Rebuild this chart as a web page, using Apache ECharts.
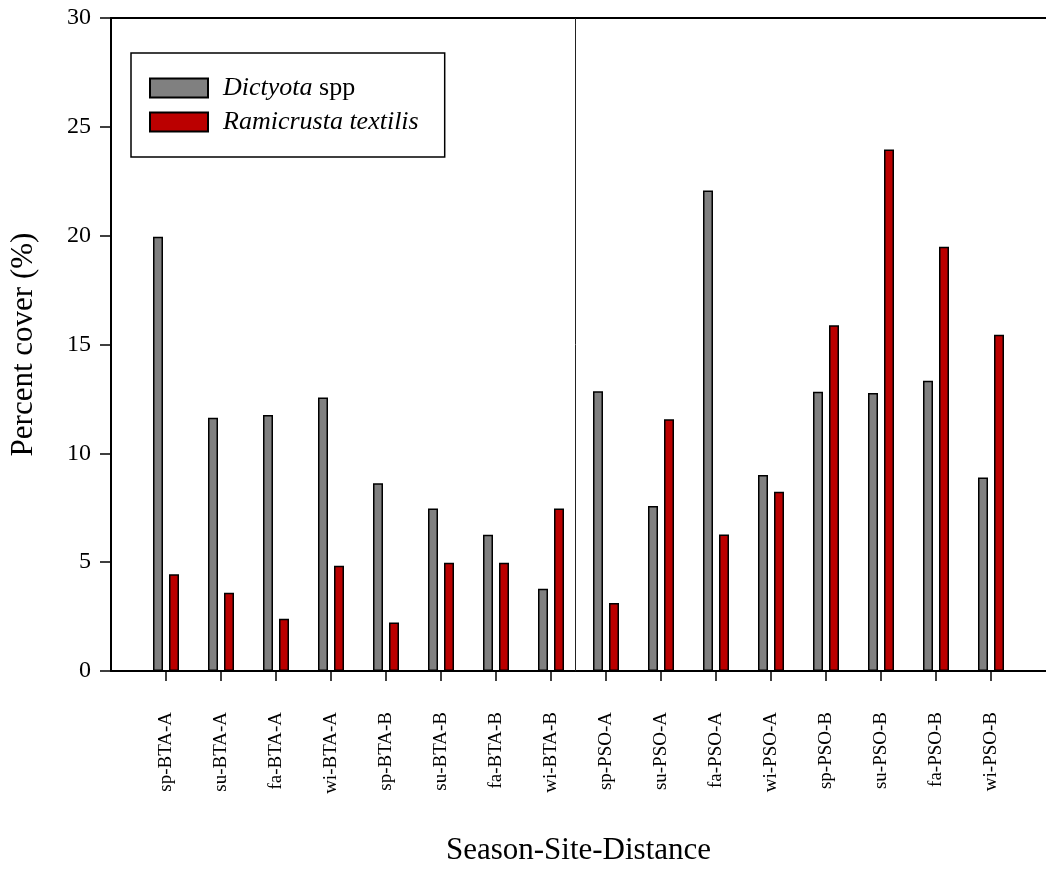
<!DOCTYPE html>
<html>
<head>
<meta charset="utf-8">
<script src="https://cdn.jsdelivr.net/npm/echarts@6/dist/echarts.min.js"></script>
<style>
  html, body { margin: 0; padding: 0; background: #fff; overflow: hidden; }
  #chart { width: 1046px; height: 871px; }
</style>
</head>
<body>
<div id="chart"></div>
<script>
// Season-site-distance groups
const categories = [
  'sp-BTA-A', 'su-BTA-A', 'fa-BTA-A', 'wi-BTA-A',
  'sp-BTA-B', 'su-BTA-B', 'fa-BTA-B', 'wi-BTA-B',
  'sp-PSO-A', 'su-PSO-A', 'fa-PSO-A', 'wi-PSO-A',
  'sp-PSO-B', 'su-PSO-B', 'fa-PSO-B', 'wi-PSO-B'
];

// Percent cover of each alga
const dictyota = [
  19.95, 11.63, 11.76, 12.57, 8.63, 7.46, 6.26, 3.78,
  12.85, 7.58, 22.08, 9.0, 12.83, 12.77, 13.33, 8.89
];
const ramicrusta = [
  4.45, 3.60, 2.40, 4.83, 2.23, 4.97, 4.97, 7.46,
  3.12, 11.57, 6.27, 8.24, 15.88, 23.96, 19.49, 15.45
];

const seriesNames = ['Dictyota spp', 'Ramicrusta textilis'];
const yTicks = [0, 5, 10, 15, 20, 25, 30];

// Site boundary (category index units), between BTA and PSO groups
const siteDivider = 7.44;

const serif = '"Liberation Serif", "Times New Roman", serif';

// One empty slot on each side so the first/last groups sit a full step from the frame
const paddedCats = [''].concat(categories, ['']);
const pad = arr => [null].concat(arr, [null]);

const chart = echarts.init(document.getElementById('chart'), null, { renderer: 'canvas' });

chart.setOption({
  animation: false,
  backgroundColor: '#ffffff',
  grid: { left: 111, right: 0, top: 18, height: 658 },
  legend: {
    left: 131,
    top: 53,
    orient: 'vertical',
    icon: 'rect',
    itemWidth: 58,
    itemHeight: 19,
    itemGap: 8,
    padding: [22, 26, 22, 18],
    borderColor: '#000',
    borderWidth: 1.5,
    data: seriesNames,
    formatter: name => name === 'Dictyota spp' ? '{i|Dictyota} spp' : '{i|' + name + '}',
    textStyle: {
      fontFamily: serif,
      fontSize: 26,
      color: '#000',
      lineHeight: 19,
      padding: [0, 0, 0, 10],
      rich: {
        i: { fontFamily: serif, fontSize: 26, fontStyle: 'italic', color: '#000', lineHeight: 19 }
      }
    }
  },
  xAxis: [
    {
      type: 'category',
      data: paddedCats,
      boundaryGap: false,
      name: 'Season-Site-Distance',
      nameLocation: 'middle',
      nameGap: 164,
      nameTextStyle: { fontFamily: serif, fontSize: 31, color: '#000' },
      axisLine: { show: true, lineStyle: { color: '#000', width: 2 } },
      axisTick: {
        show: true,
        inside: false,
        length: 10,
        interval: (idx, val) => val !== '',
        lineStyle: { color: '#000', width: 1.5 }
      },
      axisLabel: {
        interval: 0,
        rotate: 90,
        margin: 41,
        fontFamily: serif,
        fontSize: 19,
        color: '#000'
      },
      splitLine: { show: false }
    },
    {
      // top frame line plus a coordinate system for the site divider
      type: 'value',
      position: 'top',
      min: 0,
      max: paddedCats.length - 1,
      axisLine: { show: true, onZero: false, lineStyle: { color: '#000', width: 2 } },
      axisTick: { show: false },
      axisLabel: { show: false },
      splitLine: { show: false }
    }
  ],
  yAxis: {
    type: 'value',
    min: 0,
    max: 30,
    interval: 5,
    name: 'Percent cover (%)',
    nameLocation: 'middle',
    nameGap: 72,
    nameTextStyle: { fontFamily: serif, fontSize: 31, color: '#000' },
    axisLine: { show: true, lineStyle: { color: '#000', width: 2 } },
    axisTick: { show: true, inside: false, length: 11, lineStyle: { color: '#000', width: 1.5 } },
    axisLabel: {
      margin: 20,
      fontFamily: serif,
      fontSize: 24,
      color: '#000',
      formatter: v => (yTicks.indexOf(v) >= 0 ? String(v) : '')
    },
    splitLine: { show: false }
  },
  series: [
    {
      name: seriesNames[0],
      type: 'bar',
      data: pad(dictyota),
      barWidth: 10,
      barGap: '60%',
      itemStyle: { color: '#808080', borderColor: '#000', borderWidth: 1.5 }
    },
    {
      name: seriesNames[1],
      type: 'bar',
      data: pad(ramicrusta),
      barWidth: 10,
      barGap: '60%',
      itemStyle: { color: '#bb0000', borderColor: '#000', borderWidth: 1.5 }
    },
    {
      name: 'divider',
      type: 'line',
      xAxisIndex: 1,
      data: [[0, 0]],
      symbol: 'none',
      lineStyle: { opacity: 0 },
      silent: true,
      markLine: {
        silent: true,
        symbol: ['none', 'none'],
        label: { show: false },
        lineStyle: { color: '#222', width: 1, type: 'solid' },
        data: [{ xAxis: siteDivider + 1 }]
      }
    }
  ]
});
</script>
</body>
</html>
